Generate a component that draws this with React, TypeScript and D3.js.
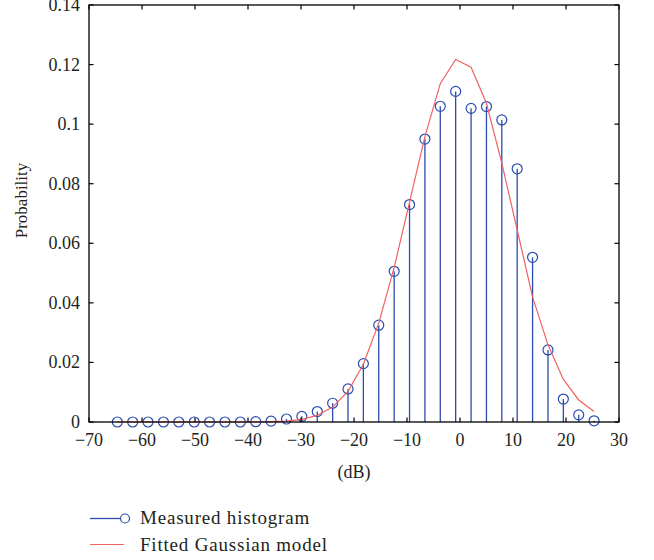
import React from "react";
import * as d3 from "d3";

const binCenters = [
  -64.66, -61.76, -58.86, -55.95, -53.05, -50.15, -47.25, -44.35, -41.44, -38.54,
  -35.64, -32.74, -29.84, -26.93, -24.03, -21.13, -18.23, -15.33, -12.42, -9.52,
  -6.62, -3.72, -0.82, 2.09, 4.99, 7.89, 10.79, 13.69, 16.6, 19.5, 22.4, 25.3,
];
const measured = [
  0, 0, 0, 0, 0, 0, 0, 0, 0, 0.0001,
  0.0003, 0.001, 0.0019, 0.0035, 0.0063, 0.0111, 0.0196, 0.0325, 0.0506, 0.073,
  0.095, 0.106, 0.111, 0.1053, 0.1059, 0.1014, 0.085, 0.0553, 0.0242, 0.0077, 0.0024, 0.0004,
];
const fitted = [
  0, 0, 0, 0, 0, 0, 0, 0, 0, 0,
  0.0001, 0.0003, 0.0009, 0.0022, 0.005, 0.0103, 0.0194, 0.0332, 0.0519, 0.0738,
  0.0958, 0.1136, 0.1217, 0.1191, 0.107, 0.0869, 0.0645, 0.042, 0.0259, 0.0143, 0.0074, 0.0035,
];
const xTicks = [-70, -60, -50, -40, -30, -20, -10, 0, 10, 20, 30];
const yTicks = [0, 0.02, 0.04, 0.06, 0.08, 0.1, 0.12, 0.14];
const xLabel = "(dB)";
const yLabel = "Probability";
const legendLabels = ["Measured histogram", "Fitted Gaussian model"];

const W = 654;
const H = 560;
const L = 89, R = 619, T = 5, B = 422;
const FONT = "'Liberation Serif', 'Times New Roman', serif";
const TXT = "#231f20";
const BLUE = "#2b4cae";
const RED = "#f06262";

export default function App() {
  const x = d3.scaleLinear().domain([-70, 30]).range([L, R]);
  const y = d3.scaleLinear().domain([0, 0.14]).range([B, T]);
  const line = d3
    .line<number>()
    .x((_, i) => x(binCenters[i]))
    .y((d) => y(d));
  const tl = 4.5;
  const fmtY = (v: number) => (v === 0 ? "0" : String(+v.toFixed(2)));
  const fmtX = (v: number) => (v < 0 ? "\u2212" + Math.abs(v) : String(v));

  return (
    <svg
      width={W}
      height={H}
      style={{ position: "absolute", left: 0, top: 0, background: "#fff" }}
      fontFamily={FONT}
    >
      <rect x={0} y={0} width={W} height={H} fill="#fff" />
      {/* stems */}
      {measured.map((v, i) => (
        <line
          key={"s" + i}
          x1={x(binCenters[i])}
          x2={x(binCenters[i])}
          y1={y(0)}
          y2={y(v)}
          stroke={BLUE}
          strokeWidth={1.3}
        />
      ))}
      {/* markers */}
      {measured.map((v, i) => (
        <circle
          key={"c" + i}
          cx={x(binCenters[i])}
          cy={y(v)}
          r={5}
          fill="none"
          stroke={BLUE}
          strokeWidth={1.2}
        />
      ))}
      {/* fitted */}
      <path d={line(fitted) || ""} fill="none" stroke={RED} strokeWidth={1.2} />

      {/* axes box */}
      <rect x={L} y={T} width={R - L} height={B - T} fill="none" stroke="#000" strokeWidth={1.3} />
      {xTicks.map((t) => (
        <g key={"xt" + t}>
          <line x1={x(t)} x2={x(t)} y1={B} y2={B - tl} stroke="#000" strokeWidth={1.2} />
          <line x1={x(t)} x2={x(t)} y1={T} y2={T + tl} stroke="#000" strokeWidth={1.2} />
          <text x={x(t)} y={446} textAnchor="middle" fontSize={18} fill={TXT}>
            {fmtX(t)}
          </text>
        </g>
      ))}
      {yTicks.map((t) => (
        <g key={"yt" + t}>
          <line x1={L} x2={L + tl} y1={y(t)} y2={y(t)} stroke="#000" strokeWidth={1.2} />
          <line x1={R} x2={R - tl} y1={y(t)} y2={y(t)} stroke="#000" strokeWidth={1.2} />
          <text x={80} y={y(t)} dy="0.33em" textAnchor="end" fontSize={18} fill={TXT}>
            {fmtY(t)}
          </text>
        </g>
      ))}
      <text x={(L + R) / 2} y={478} textAnchor="middle" fontSize={18} fill={TXT}>
        {xLabel}
      </text>
      <text
        transform={`translate(27,${(T + B) / 2 - 13}) rotate(-90)`}
        textAnchor="middle"
        fontSize={17}
        fill={TXT}
      >
        {yLabel}
      </text>

      {/* legend */}
      <line x1={90} x2={121} y1={518.5} y2={518.5} stroke={BLUE} strokeWidth={1.3} />
      <circle cx={125} cy={518.5} r={4.5} fill="#fff" stroke={BLUE} strokeWidth={1.2} />
      <text x={140} y={524} fontSize={19} letterSpacing={0.8} fill={TXT}>
        {legendLabels[0]}
      </text>
      <line x1={90} x2={124} y1={544.5} y2={544.5} stroke={RED} strokeWidth={1.2} />
      <text x={140} y={551} fontSize={19} letterSpacing={0.8} fill={TXT}>
        {legendLabels[1]}
      </text>
    </svg>
  );
}
